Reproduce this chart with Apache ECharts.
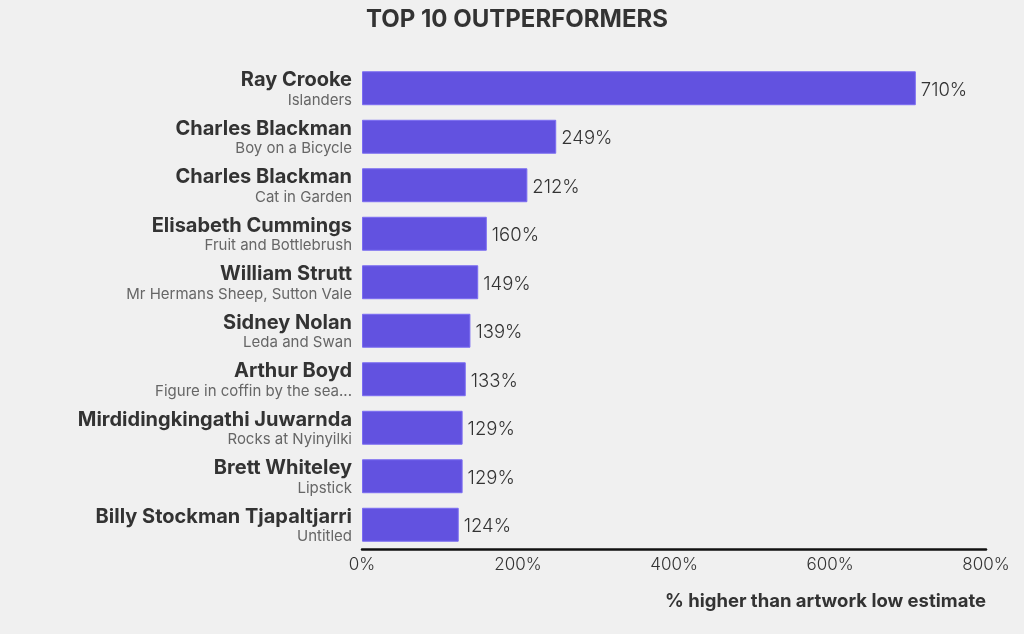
<!DOCTYPE html>
<html>
<head>
<meta charset="utf-8">
<script src="https://cdn.jsdelivr.net/npm/echarts@6/dist/echarts.min.js"></script>
<style>
  html, body { margin: 0; padding: 0; background: #f0f0f0; }
  #chart { width: 1024px; height: 634px; }
</style>
</head>
<body>
<div id="chart"></div>
<script>
const artists = [
  'Ray Crooke', 'Charles Blackman', 'Charles Blackman', 'Elisabeth Cummings', 'William Strutt',
  'Sidney Nolan', 'Arthur Boyd', 'Mirdidingkingathi Juwarnda', 'Brett Whiteley', 'Billy Stockman Tjapaltjarri'
]
const artworks = [
  'Islanders', 'Boy on a Bicycle', 'Cat in Garden', 'Fruit and Bottlebrush', 'Mr Hermans Sheep, Sutton Vale',
  'Leda and Swan', 'Figure in coffin by the sea...', 'Rocks at Nyinyilki', 'Lipstick', 'Untitled'
]
const outperformance = [710, 249, 212, 160, 149, 139, 133, 129, 129, 124]
const xTicks = [0, 200, 400, 600, 800]

const font = 'Inter, "Noto Sans", sans-serif'
const chart = echarts.init(document.getElementById('chart'))

chart.setOption({
  backgroundColor: '#f0f0f0',
  textStyle: { fontFamily: font },
  title: {
    text: 'TOP 10 OUTPERFORMERS',
    left: 512,
    top: 3,
    textAlign: 'center',
    textStyle: { fontFamily: font, fontSize: 24, fontWeight: 'bold', color: '#333' }
  },
  grid: { left: 362, right: 38, top: 64, bottom: 85, containLabel: false },
  xAxis: {
    type: 'value',
    min: xTicks[0],
    max: xTicks[xTicks.length - 1],
    interval: 200,
    name: '% higher than artwork low estimate',
    nameLocation: 'end',
    nameGap: 0,
    nameTextStyle: {
      fontFamily: font, fontSize: 18.5, fontWeight: 'bold', color: '#333',
      align: 'right', verticalAlign: 'top', padding: [43, 0, 0, 0]
    },
    axisLine: { show: true, lineStyle: { color: '#111', width: 2.5 } },
    axisTick: { show: false },
    splitLine: { show: false },
    axisLabel: { formatter: '{value}%', fontSize: 17, fontWeight: 300, color: '#333', margin: 7, fontFamily: font }
  },
  yAxis: {
    type: 'category',
    inverse: true,
    data: artists.map((a, i) => a + '\n' + artworks[i]),
    axisLine: { show: false },
    axisTick: { show: false },
    axisLabel: {
      margin: 10,
      padding: [3, 0, 0, 0],
      formatter: (v) => {
        const [a, w] = v.split('\n')
        return '{a|' + a + '}\n{w|' + w + '}'
      },
      rich: {
        a: { fontFamily: font, fontSize: 20, fontWeight: 'bold', color: '#333', align: 'right', lineHeight: 21 },
        w: { fontFamily: font, fontSize: 15, color: '#666', align: 'right', lineHeight: 19 }
      }
    }
  },
  series: [{
    type: 'bar',
    data: outperformance,
    barCategoryGap: '30%',
    itemStyle: { color: '#6252e0', borderColor: '#7b6cf2', borderWidth: 1 },
    label: {
      show: true,
      position: 'right',
      distance: 5,
      formatter: '{c}%',
      fontFamily: font,
      fontSize: 18.5,
      fontWeight: 300,
      color: '#333',
      offset: [0, 2]
    },
    animation: false
  }]
})
</script>
</body>
</html>
